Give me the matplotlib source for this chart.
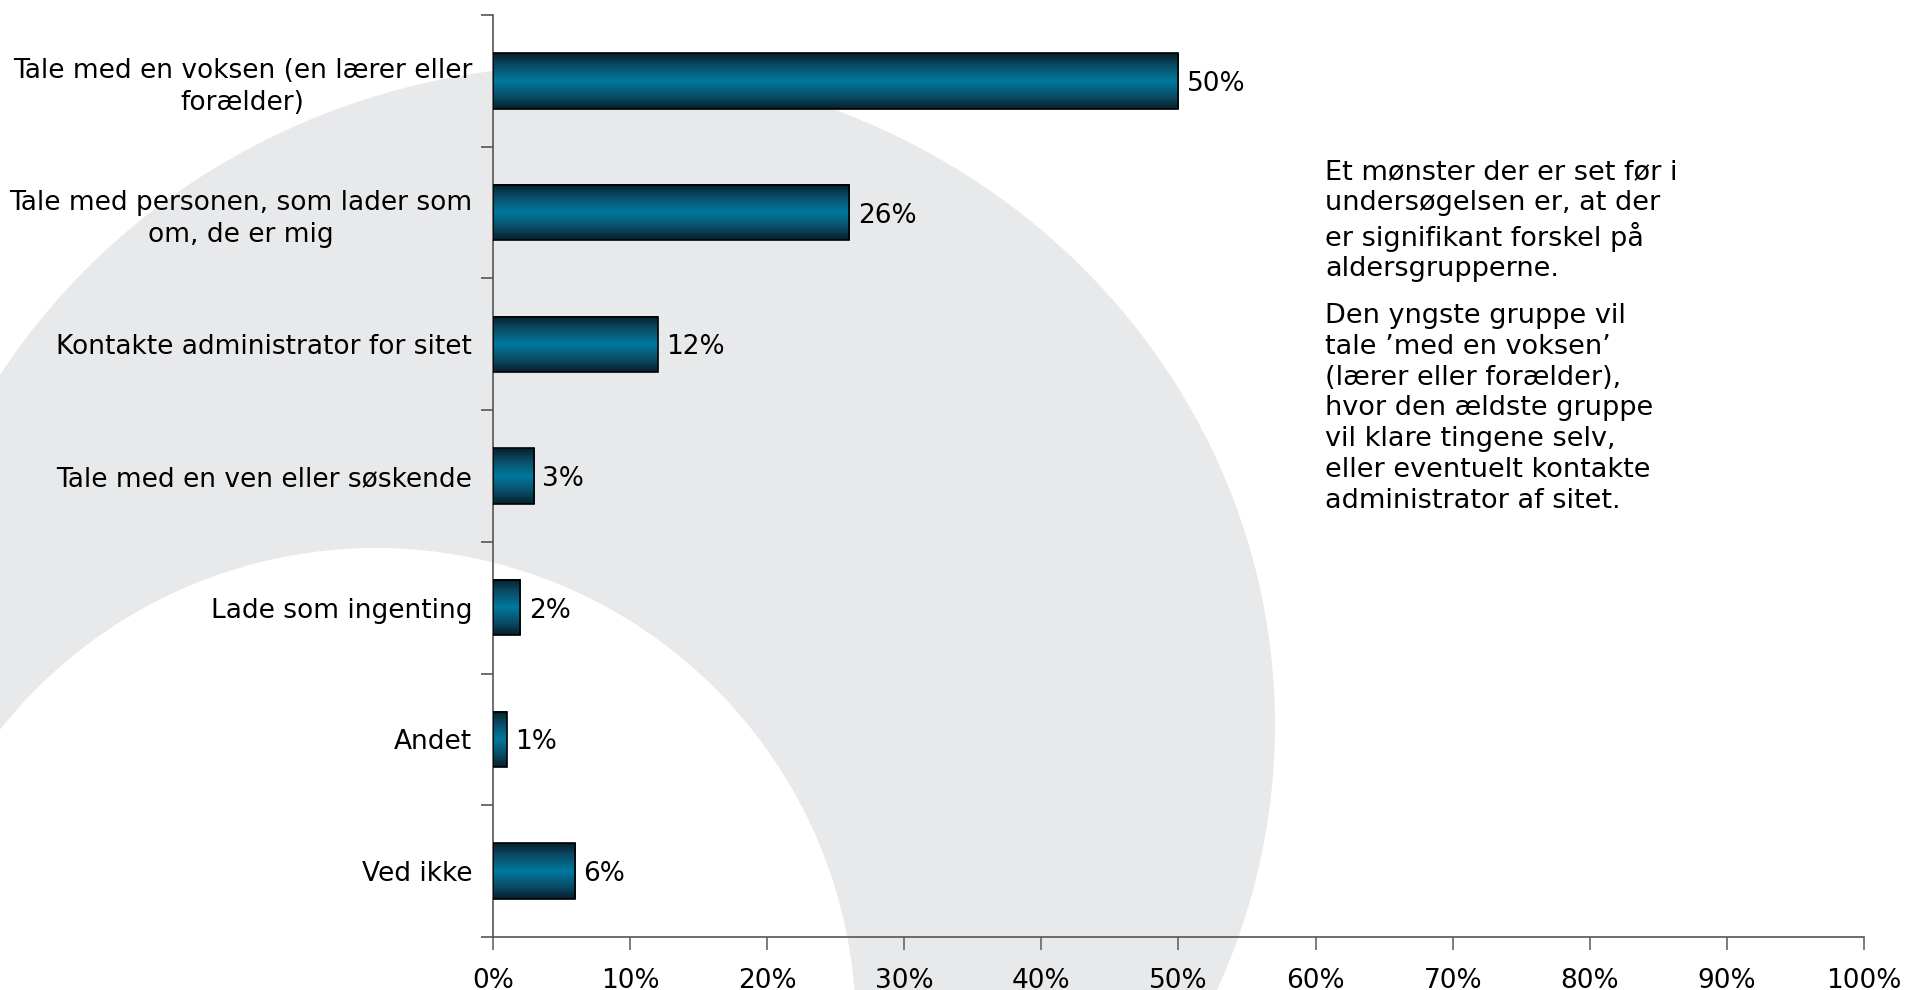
import numpy as np
import matplotlib
matplotlib.use("Agg")
import matplotlib.pyplot as plt
from matplotlib.patches import Ellipse, Circle
from matplotlib.colors import LinearSegmentedColormap

# svarfordeling (%)
kategorier = [
    "Tale med en voksen (en lærer eller\nforælder)",
    "Tale med personen, som lader som\nom, de er mig",
    "Kontakte administrator for sitet",
    "Tale med en ven eller søskende",
    "Lade som ingenting",
    "Andet",
    "Ved ikke",
]
andele = [50, 26, 12, 3, 2, 1, 6]
x_ticks = list(range(0, 101, 10))
x_labels = [f"{t}%" for t in x_ticks]

note_1 = ("Et mønster der er set før i\n"
          "undersøgelsen er, at der\n"
          "er signifikant forskel på\n"
          "aldersgrupperne.")
note_2 = ("Den yngste gruppe vil\n"
          "tale ’med en voksen’\n"
          "(lærer eller forælder),\n"
          "hvor den ældste gruppe\n"
          "vil klare tingene selv,\n"
          "eller eventuelt kontakte\n"
          "administrator af sitet.")

plt.rcParams["font.family"] = ["DejaVu Sans"]
W, H = 1908, 990
fig = plt.figure(figsize=(W / 100, H / 100), dpi=100)
fig.patch.set_facecolor("white")

# baggrundsbue i pixelkoordinater
bg = fig.add_axes([0, 0, 1, 1], zorder=0)
bg.set_xlim(0, W)
bg.set_ylim(H, 0)
bg.axis("off")
bg.add_patch(Ellipse((585, 725), 1380, 1320, facecolor="#e8e9eb", edgecolor="none"))
bg.add_patch(Circle((376, 1028), 480, facecolor="white", edgecolor="none"))

ax = fig.add_axes([493 / W, 53 / H, (1864 - 493) / W, (937 - 15) / H], zorder=1)
ax.patch.set_alpha(0)

y = np.arange(len(kategorier))
bars = ax.barh(y, andele, height=0.42, facecolor="none", edgecolor="black",
               linewidth=1.2, zorder=3)

cmap = LinearSegmentedColormap.from_list(
    "bar", [(0, "#05202c"), (0.22, "#0a4c66"), (0.5, "#00799f"),
            (0.78, "#0a4c66"), (1, "#05202c")])
grad = np.linspace(0, 1, 100).reshape(-1, 1)
for b in bars:
    ax.imshow(grad, extent=[b.get_x(), b.get_x() + b.get_width(),
                            b.get_y(), b.get_y() + b.get_height()],
              aspect="auto", cmap=cmap, zorder=2, interpolation="bicubic")

for b, v in zip(bars, andele):
    ax.text(b.get_width() + 0.6, b.get_y() + b.get_height() / 2, f"{v}%",
            va="center_baseline", ha="left", fontsize=19, color="black", zorder=4)

ax.set_xlim(0, 100)
ax.set_ylim(len(kategorier) - 0.5, -0.5)
ax.set_xticks(x_ticks)
ax.set_xticklabels(x_labels, fontsize=19)
ax.set_yticks(y)
ax.set_yticklabels(kategorier, fontsize=19, multialignment="center", linespacing=1.3)
for lab in ax.get_yticklabels():
    if "\n" not in lab.get_text():
        lab.set_va("center_baseline")
ax.set_yticks(np.arange(-0.5, len(kategorier)), minor=True)
ax.tick_params(axis="y", which="major", length=0, pad=15)
ax.tick_params(axis="y", which="minor", length=9, width=1.2, color="#555555")
ax.tick_params(axis="x", length=9, width=1.2, color="#666666", pad=13)

for side in ("top", "right"):
    ax.spines[side].set_visible(False)
for side in ("left", "bottom"):
    ax.spines[side].set_color("#555555")
    ax.spines[side].set_linewidth(1.2)

fig.text(1325 / W, 1 - 159 / H, note_1, fontsize=19.5, va="top", ha="left",
         linespacing=1.24)
fig.text(1325 / W, 1 - 303 / H, note_2, fontsize=19.5, va="top", ha="left",
         linespacing=1.24)

fig.savefig("out.png", dpi=100, facecolor="white")
